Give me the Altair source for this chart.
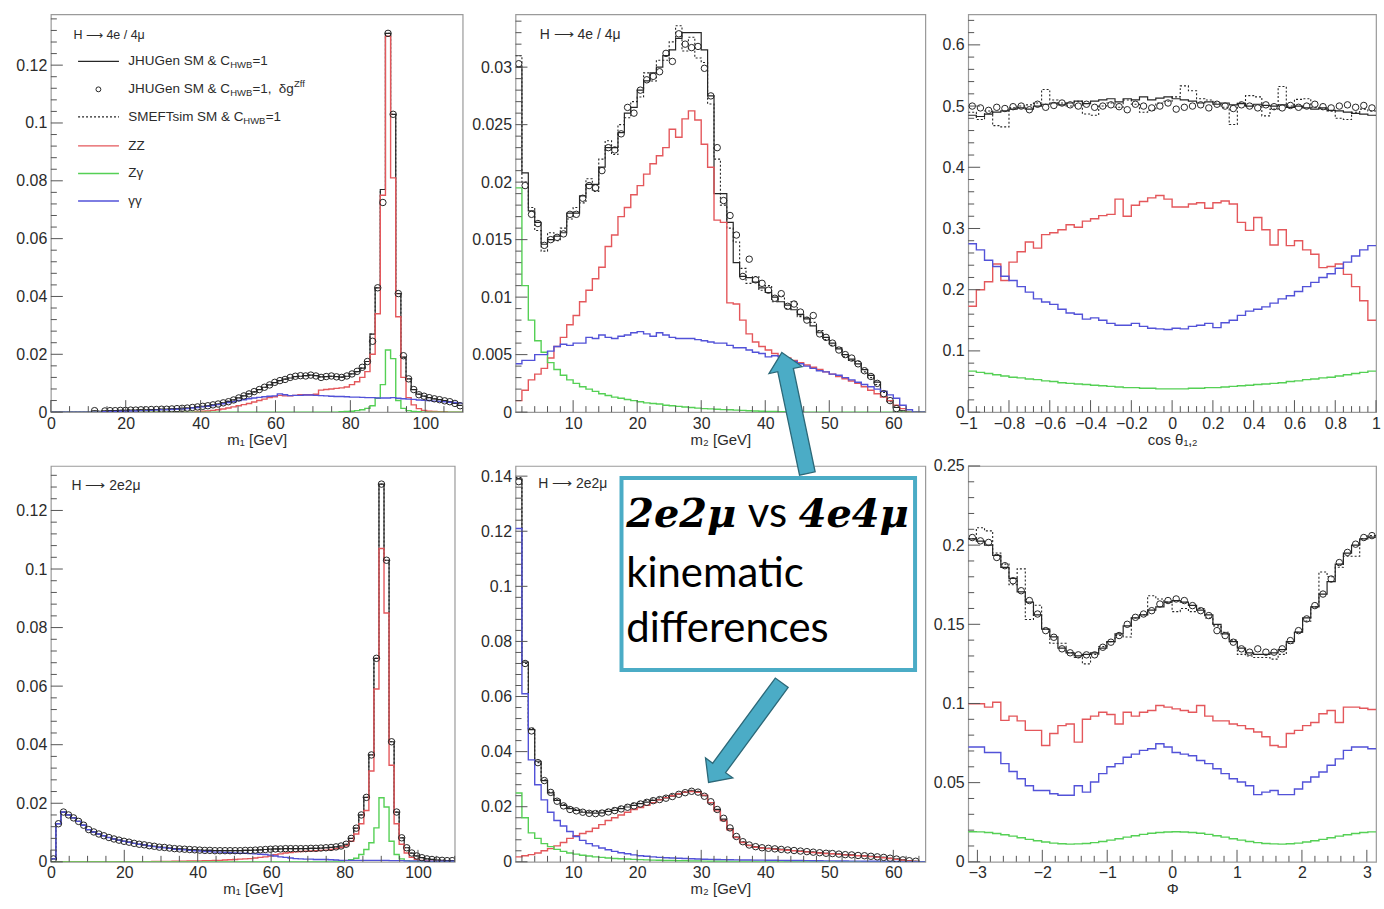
import altair as alt
import pandas as pd

# ---------------------------------------------------------------------------
# Histogram contents.  m1 / m2 panels are stored in units of 1e-3.
# ---------------------------------------------------------------------------
M1_RANGE = (0.0, 110.0)                  # 80 bins
M2_RANGE = (1.0, 65.0)                   # 64 bins
COS_RANGE = (-1.0, 1.0)                  # 50 bins
PHI_RANGE = (-3.14159265, 3.14159265)    # 50 bins

# H -> 4e / 4mu : m1
m1_4l_jhu = [0, 0, 0, 0, 0, 0, 0, 0,
             0.4, 0.3, 0.4, 0.5, 0.5, 0.6, 0.6, 0.7,
             0.7, 0.8, 0.8, 0.9, 0.9, 1.0, 1.0, 1.1,
             1.2, 1.3, 1.4, 1.6, 1.8, 2.0, 2.2, 2.5,
             2.8, 3.2, 3.7, 4.2, 4.9, 5.6, 6.3, 7.0,
             7.8, 8.6, 9.4, 10.2, 10.9, 11.4, 11.8, 12.3,
             12.4, 12.6, 12.8, 12.6, 12.2, 12.3, 12.4, 12.3,
             12.1, 12.4, 13.2, 14.0, 15.2, 17.5, 27.0, 43.0,
             77.0, 131.0, 103.0, 41.0, 19.0, 11.5, 7.8, 6.2,
             5.5, 5.0, 4.6, 4.3, 4.0, 3.6, 3.0, 2.3]
m1_4l_dgz = [0, 0, 0, 0, 0, 0, 0, 0,
             0.5, 0.0, 0.4, 0.5, 0.5, 0.6, 0.6, 0.7,
             0.7, 0.8, 0.8, 0.9, 0.9, 1.0, 1.0, 1.1,
             1.2, 1.3, 1.4, 1.6, 1.8, 2.0, 2.2, 2.5,
             2.8, 3.2, 3.6, 4.2, 4.9, 5.6, 6.3, 7.1,
             7.8, 8.6, 9.4, 10.3, 10.9, 11.3, 12.0, 12.4,
             12.6, 12.5, 12.8, 12.5, 12.0, 12.3, 12.5, 12.2,
             12.0, 12.5, 13.2, 14.1, 15.5, 17.5, 24.5, 43.0,
             72.5, 131.0, 103.0, 41.0, 19.5, 11.5, 7.8, 6.0,
             5.5, 5.0, 4.6, 4.3, 3.9, 3.6, 3.0, 2.2]
m1_4l_smeft = m1_4l_jhu
m1_4l_zz = [0, 0, 0, 0, 0, 0, 0, 0,
            0, 0, 0, 0, 0, 0, 0, 0,
            0, 0, 0, 0, 0, 0, 0, 0,
            0, 0, 0, 0, 0.2, 0.3, 0.4, 0.6,
            0.8, 1.1, 1.4, 1.8, 2.2, 2.6, 3.0, 3.5,
            4.0, 4.5, 5.0, 5.3, 5.8, 5.6, 5.6, 5.8,
            6.0, 6.0, 6.0, 6.2, 7.6, 7.8, 8.0, 8.2,
            8.4, 8.7, 9.5, 10.5, 12.0, 14.0, 20.0, 34.0,
            75.0, 130.0, 81.0, 33.0, 12.0, 5.0, 2.5, 1.2,
            0.6, 0.3, 0.2, 0.1, 0.1, 0, 0, 0]
m1_4l_za = [0, 0, 0, 0, 0, 0, 0, 0,
            0, 0, 0, 0, 0, 0, 0, 0,
            0, 0, 0, 0, 0, 0, 0, 0,
            0, 0, 0, 0, 0, 0, 0, 0,
            0, 0, 0, 0, 0, 0, 0, 0,
            0, 0, 0, 0, 0, 0, 0, 0,
            0, 0, 0, 0, 0, 0, 0, 0,
            0.1, 0.2, 0.3, 0.5, 0.8, 1.3, 2.2, 4.8,
            9.5, 21.5, 18.5, 4.0, 1.3, 0.5, 0.2, 0.1,
            0, 0, 0, 0, 0, 0, 0, 0]
m1_4l_aa = [0, 0, 0, 0, 0, 0, 0, 0,
            0, 0, 0.1, 0.2, 0.2, 0.3, 0.3, 0.4,
            0.4, 0.5, 0.5, 0.6, 0.7, 0.8, 0.8, 0.9,
            1.0, 1.1, 1.2, 1.4, 1.6, 1.8, 2.0, 2.3,
            2.6, 2.9, 3.3, 3.6, 4.0, 4.3, 4.6, 4.9,
            5.1, 5.3, 5.5, 5.6, 6.3, 6.0, 5.7, 5.8,
            5.8, 5.9, 5.9, 5.8, 5.7, 5.6, 5.5, 5.4,
            5.4, 5.3, 5.2, 5.2, 5.1, 5.0, 5.0, 4.9,
            4.9, 4.9, 5.0, 4.8, 4.6, 4.5, 4.4, 4.2,
            4.1, 4.0, 3.8, 3.7, 3.6, 3.4, 3.3, 3.1]

# H -> 4e / 4mu : m2
m2_4l_jhu = [30.0, 20.8, 17.5, 16.5, 14.6, 15.0, 15.3, 15.6, 17.3, 17.3,
             18.8, 19.8, 19.8, 21.3, 23.0, 23.0, 24.3, 26.0, 26.5, 28.0,
             28.8, 29.5, 30.0, 31.0, 31.5, 32.5, 33.0, 33.0, 33.0, 31.5,
             27.5, 19.0, 19.0, 16.5, 13.0, 11.8, 11.7, 11.3, 10.8, 10.4,
             10.0, 9.6, 9.3, 8.9, 8.5, 8.1, 7.5, 6.9, 6.5, 6.0,
             5.5, 5.0, 4.6, 4.2, 3.7, 3.2, 2.6, 1.8, 1.0, 0.4,
             0.1, 0, 0, 0]
m2_4l_dgz = [30.3, 19.7, 17.2, 16.4, 14.5, 15.0, 15.2, 15.5, 17.2, 17.2,
             18.6, 19.7, 19.5, 21.0, 23.0, 22.8, 24.2, 26.5, 26.0, 28.0,
             28.9, 29.2, 29.6, 31.2, 30.5, 32.9, 32.0, 31.7, 31.8, 29.9,
             27.5, 23.0, 18.4, 17.1, 15.4, 11.8, 13.3, 11.5, 11.2, 10.6,
             9.9, 10.3, 9.2, 9.4, 8.7, 8.0, 8.4, 6.8, 6.5, 6.0,
             5.4, 5.0, 4.7, 4.2, 3.6, 3.1, 2.5, 1.6, 1.0, 0.3,
             0, 0, 0, 0]
m2_4l_smeft = [31.0, 20.0, 17.8, 15.8, 14.0, 15.6, 14.9, 16.0, 16.8, 17.8,
               18.2, 20.3, 19.2, 22.0, 23.6, 22.4, 25.0, 25.6, 27.0, 27.4,
               29.5, 28.8, 30.6, 30.6, 32.2, 33.6, 31.4, 32.6, 30.8, 30.4,
               26.8, 22.0, 18.0, 16.0, 14.8, 12.5, 11.2, 11.8, 10.6, 11.0,
               9.6, 10.1, 9.0, 9.6, 8.3, 8.2, 7.8, 7.1, 6.3, 5.8,
               5.6, 4.8, 4.5, 4.4, 3.5, 3.0, 2.4, 1.7, 0.9, 0.4,
               0.1, 0, 0, 0]
m2_4l_zz = [1.0, 1.9, 2.8, 3.3, 3.8, 4.7, 5.7, 6.5, 7.6, 8.4,
            9.6, 10.6, 11.6, 12.6, 14.4, 15.4, 17.0, 17.8, 18.9, 19.7,
            20.7, 21.6, 22.3, 23.0, 24.6, 23.9, 25.5, 26.2, 25.4, 23.3,
            21.3, 16.7, 16.5, 9.5, 9.4, 8.0, 6.8, 6.1, 5.7, 5.4,
            5.1, 4.9, 4.7, 4.5, 4.3, 4.1, 3.9, 3.7, 3.5, 3.3,
            3.1, 2.9, 2.7, 2.5, 2.2, 1.9, 1.6, 1.3, 1.0, 0.6,
            0.3, 0, 0, 0]
m2_4l_za = [19.5, 11.0, 8.0, 6.2, 5.2, 4.3, 3.7, 3.2, 2.8, 2.5,
            2.2, 2.0, 1.8, 1.6, 1.45, 1.3, 1.2, 1.1, 1.0, 0.9,
            0.8, 0.75, 0.7, 0.6, 0.55, 0.5, 0.45, 0.4, 0.35, 0.3,
            0.28, 0.25, 0.22, 0.2, 0.17, 0.15, 0.12, 0.1, 0.08, 0.06,
            0.05, 0.04, 0.03, 0.02, 0.01, 0, 0, 0, 0, 0,
            0, 0, 0, 0, 0, 0, 0, 0, 0, 0,
            0, 0, 0, 0]
m2_4l_aa = [4.2, 4.5, 4.5, 5.0, 5.0, 5.3, 5.7, 5.9, 5.8, 6.0,
            6.0, 6.5, 6.4, 6.7, 6.5, 6.4, 6.6, 6.7, 6.9, 7.0,
            6.8, 6.6, 6.9, 6.7, 6.5, 6.4, 6.4, 6.4, 6.3, 6.2,
            6.1, 6.0, 6.0, 5.8, 5.6, 5.6, 5.4, 5.2, 5.1, 4.8,
            4.9, 4.8, 4.6, 4.4, 4.2, 4.0, 3.8, 3.6, 3.5, 3.3,
            3.2, 3.0, 2.8, 2.6, 2.4, 2.2, 2.0, 1.8, 1.5, 1.2,
            0.6, 0.2, 0, 0]

# H -> 4e / 4mu : cos theta_1,2
cos_jhu = [0.485, 0.483, 0.487, 0.490, 0.492, 0.495, 0.497, 0.495, 0.500, 0.503,
           0.505, 0.502, 0.505, 0.508, 0.504, 0.508, 0.510, 0.512, 0.507, 0.512,
           0.510, 0.515, 0.510, 0.513, 0.515, 0.512, 0.510, 0.508, 0.505, 0.507,
           0.503, 0.505, 0.502, 0.504, 0.500, 0.503, 0.501, 0.500, 0.502, 0.498,
           0.500, 0.497, 0.495, 0.497, 0.493, 0.492, 0.490, 0.488, 0.487, 0.485]
cos_dgz = [0.500, 0.497, 0.493, 0.498, 0.496, 0.499, 0.500, 0.494, 0.503, 0.498,
           0.501, 0.505, 0.502, 0.500, 0.503, 0.498, 0.500, 0.502, 0.499, 0.494,
           0.503, 0.500, 0.497, 0.500, 0.505, 0.495, 0.498, 0.500, 0.502, 0.497,
           0.503, 0.500, 0.496, 0.502, 0.500, 0.497, 0.502, 0.499, 0.497, 0.501,
           0.498, 0.500, 0.503, 0.499, 0.497, 0.500, 0.502, 0.498, 0.501, 0.497]
cos_smeft = [0.490, 0.478, 0.492, 0.468, 0.466, 0.497, 0.500, 0.502, 0.505, 0.527,
             0.510, 0.505, 0.500, 0.508, 0.487, 0.485, 0.500, 0.505, 0.498, 0.510,
             0.503, 0.490, 0.493, 0.505, 0.508, 0.515, 0.533, 0.525, 0.512, 0.510,
             0.505, 0.498, 0.470, 0.505, 0.517, 0.515, 0.484, 0.495, 0.532, 0.500,
             0.511, 0.512, 0.498, 0.495, 0.492, 0.480, 0.478, 0.490, 0.495, 0.492]
cos_zz = [0.173, 0.200, 0.213, 0.242, 0.215, 0.245, 0.262, 0.278, 0.268, 0.290,
          0.293, 0.298, 0.306, 0.302, 0.312, 0.316, 0.321, 0.323, 0.348, 0.320,
          0.338, 0.344, 0.350, 0.354, 0.348, 0.335, 0.335, 0.340, 0.342, 0.333,
          0.342, 0.345, 0.340, 0.310, 0.297, 0.318, 0.298, 0.273, 0.298, 0.272,
          0.280, 0.265, 0.258, 0.236, 0.238, 0.242, 0.225, 0.205, 0.182, 0.150]
cos_za = [0.067, 0.065, 0.063, 0.061, 0.059, 0.057, 0.056, 0.054, 0.053, 0.051,
          0.050, 0.048, 0.047, 0.046, 0.045, 0.044, 0.043, 0.042, 0.041, 0.040,
          0.040, 0.039, 0.039, 0.038, 0.038, 0.038, 0.038, 0.039, 0.039, 0.040,
          0.040, 0.041, 0.042, 0.043, 0.044, 0.045, 0.046, 0.047, 0.048, 0.050,
          0.051, 0.053, 0.054, 0.056, 0.057, 0.059, 0.061, 0.063, 0.065, 0.067]
cos_aa = [0.275, 0.265, 0.248, 0.238, 0.222, 0.215, 0.205, 0.196, 0.185, 0.180,
          0.176, 0.168, 0.162, 0.160, 0.152, 0.154, 0.150, 0.145, 0.142, 0.142,
          0.145, 0.140, 0.137, 0.136, 0.135, 0.137, 0.136, 0.140, 0.142, 0.145,
          0.138, 0.146, 0.150, 0.158, 0.165, 0.168, 0.172, 0.178, 0.185, 0.190,
          0.197, 0.205, 0.212, 0.220, 0.226, 0.235, 0.245, 0.255, 0.265, 0.272]

# H -> 2e2mu : m1
m1_2l_jhu = [1.0, 13.0, 17.0, 16.0, 15.0, 13.8, 12.5, 11.0,
             10.2, 9.5, 8.9, 8.3, 7.8, 7.4, 7.0, 6.7,
             6.3, 6.0, 5.8, 5.5, 5.3, 5.0, 4.9, 4.7,
             4.5, 4.4, 4.3, 4.2, 4.1, 4.0, 3.9, 3.9,
             3.8, 3.8, 3.8, 3.8, 3.8, 3.8, 3.9, 3.9,
             4.0, 4.1, 4.2, 4.3, 4.4, 4.4, 4.5, 4.5,
             4.5, 4.5, 4.5, 4.6, 4.6, 4.7, 4.8, 4.9,
             5.1, 5.4, 6.0, 8.0, 11.5, 16.0, 22.0, 36.5,
             69.5, 129.0, 103.0, 41.0, 17.0, 8.2, 4.8, 3.0,
             2.0, 1.4, 1.0, 0.8, 0.6, 0.5, 0.4, 0.4]
m1_2l_dgz = m1_2l_jhu
m1_2l_smeft = m1_2l_jhu
m1_2l_zz = [0, 0, 0, 0, 0, 0, 0, 0,
            0, 0, 0, 0, 0, 0, 0, 0,
            0, 0, 0, 0, 0.1, 0.1, 0.1, 0.1,
            0.2, 0.2, 0.2, 0.3, 0.3, 0.3, 0.4, 0.4,
            0.5, 0.5, 0.6, 0.7, 0.8, 0.9, 1.0, 1.1,
            1.3, 1.5, 1.7, 2.0, 2.4, 2.7, 3.0, 3.2,
            3.4, 3.5, 3.6, 3.7, 3.8, 3.9, 4.0, 4.2,
            4.5, 4.9, 5.5, 7.0, 9.5, 13.0, 17.5, 31.0,
            59.0, 107.0, 85.0, 33.0, 13.0, 6.0, 3.0, 1.5,
            0.8, 0.5, 0.3, 0.2, 0.1, 0.1, 0, 0]
m1_2l_za = [0, 0, 0, 0, 0, 0, 0, 0,
            0, 0, 0, 0, 0, 0, 0, 0,
            0, 0, 0, 0, 0, 0, 0, 0,
            0, 0, 0, 0, 0, 0, 0, 0,
            0, 0, 0, 0, 0, 0, 0, 0,
            0, 0, 0, 0, 0, 0, 0, 0,
            0, 0, 0, 0, 0, 0, 0, 0,
            0.1, 0.2, 0.4, 0.7, 1.2, 2.5, 4.2, 6.5,
            11.6, 21.9, 18.7, 7.0, 2.5, 1.0, 0.4, 0.2,
            0.1, 0, 0, 0, 0, 0, 0, 0]
m1_2l_aa = [1.0, 13.0, 17.0, 16.0, 15.0, 13.8, 12.5, 11.0,
            10.2, 9.5, 8.9, 8.3, 7.8, 7.4, 7.0, 6.7,
            6.3, 6.0, 5.8, 5.5, 5.2, 4.9, 4.8, 4.6,
            4.3, 4.2, 4.1, 3.9, 3.8, 3.7, 3.5, 3.5,
            3.3, 3.3, 3.2, 3.1, 3.0, 2.9, 2.9, 2.8,
            2.7, 2.6, 2.5, 2.3, 2.0, 1.7, 1.5, 1.3,
            1.1, 1.0, 0.9, 0.9, 0.8, 0.8, 0.8, 0.7,
            0.6, 0.5, 0.5, 0.5, 0.5, 0.5, 0.5, 0.5,
            0.5, 0.5, 0.5, 0.4, 0.4, 0.4, 0.3, 0.3,
            0.3, 0.3, 0.2, 0.2, 0.2, 0.2, 0.2, 0.2]

# H -> 2e2mu : m2
m2_2l_jhu = [139.0, 72.5, 48.0, 36.5, 29.5, 25.0, 22.3, 20.5, 19.3, 18.7,
             18.0, 17.8, 17.7, 17.8, 18.3, 18.7, 19.3, 19.9, 20.5, 21.1,
             21.7, 22.3, 22.6, 23.2, 23.8, 24.6, 25.2, 25.8, 25.5, 24.0,
             21.5, 19.0, 15.5, 12.0, 9.0, 7.2, 6.0, 5.4, 5.1, 4.9,
             4.7, 4.5, 4.3, 4.1, 3.9, 3.7, 3.5, 3.3, 3.1, 3.0,
             2.8, 2.6, 2.5, 2.3, 2.2, 2.0, 1.8, 1.6, 1.3, 1.0,
             0.7, 0.4, 0.2, 0.0]
m2_2l_dgz = [138.0, 72.0, 47.5, 36.0, 29.5, 25.2, 22.0, 20.3, 19.0, 18.5,
             18.0, 17.6, 17.5, 17.7, 18.1, 18.6, 19.2, 19.8, 20.3, 21.0,
             21.6, 22.2, 22.6, 23.1, 23.7, 24.5, 25.1, 25.6, 25.3, 23.8,
             21.8, 19.0, 15.8, 12.3, 9.2, 7.3, 6.1, 5.5, 5.1, 4.9,
             4.7, 4.5, 4.3, 4.1, 3.9, 3.7, 3.5, 3.3, 3.1, 3.0,
             2.8, 2.6, 2.5, 2.3, 2.2, 2.0, 1.8, 1.6, 1.3, 1.0,
             0.7, 0.4, 0.2, 0.0]
m2_2l_smeft = [139.5, 72.0, 48.5, 36.0, 29.8, 25.3, 22.5, 20.8, 19.6, 19.0,
               18.4, 18.2, 18.3, 18.5, 19.0, 19.5, 20.0, 20.6, 21.2, 21.8,
               22.3, 22.8, 23.2, 23.7, 24.3, 24.9, 25.5, 26.0, 25.6, 24.0,
               21.3, 18.8, 15.3, 11.8, 9.0, 7.3, 6.0, 5.5, 5.1, 4.9,
               4.7, 4.5, 4.3, 4.1, 3.9, 3.7, 3.5, 3.3, 3.1, 3.0,
               2.8, 2.6, 2.5, 2.3, 2.2, 2.0, 1.8, 1.6, 1.3, 1.0,
               0.7, 0.4, 0.2, 0.0]
m2_2l_zz = [1.8, 2.2, 2.6, 3.2, 4.0, 4.8, 5.8, 7.0, 8.5, 9.5,
            10.3, 11.0, 12.2, 13.5, 15.0, 16.0, 17.0, 18.0, 19.0, 19.7,
            20.5, 21.5, 22.5, 23.3, 24.0, 24.7, 25.3, 25.5, 25.2, 24.2,
            21.5, 18.5, 15.0, 11.6, 8.8, 7.0, 5.9, 5.3, 5.0, 4.8,
            4.6, 4.4, 4.2, 4.0, 3.8, 3.6, 3.4, 3.2, 3.0, 2.9,
            2.7, 2.5, 2.4, 2.2, 2.1, 1.9, 1.7, 1.5, 1.2, 0.9,
            0.6, 0.3, 0.1, 0]
m2_2l_za = [25.0, 16.0, 10.5, 8.5, 6.6, 5.5, 4.5, 3.8, 3.2, 2.8,
            2.4, 2.1, 1.8, 1.6, 1.4, 1.2, 1.1, 1.0, 0.9, 0.8,
            0.7, 0.6, 0.55, 0.5, 0.45, 0.4, 0.36, 0.32, 0.28, 0.25,
            0.22, 0.2, 0.18, 0.16, 0.14, 0.12, 0.1, 0.09, 0.08, 0.07,
            0.06, 0.05, 0.04, 0.03, 0.02, 0.01, 0, 0, 0, 0,
            0, 0, 0, 0, 0, 0, 0, 0, 0, 0,
            0, 0, 0, 0]
m2_2l_aa = [121.0, 61.0, 37.0, 28.0, 22.5, 18.0, 15.0, 13.0, 11.0, 9.2,
            7.8, 6.6, 5.8, 5.0, 4.4, 3.8, 3.3, 2.9, 2.5, 2.2,
            2.0, 1.8, 1.6, 1.5, 1.4, 1.3, 1.2, 1.1, 1.0, 0.95,
            0.9, 0.85, 0.8, 0.75, 0.7, 0.68, 0.65, 0.62, 0.6, 0.57,
            0.55, 0.52, 0.5, 0.48, 0.45, 0.43, 0.4, 0.38, 0.35, 0.33,
            0.3, 0.28, 0.26, 0.24, 0.22, 0.2, 0.18, 0.15, 0.12, 0.1,
            0.07, 0.04, 0.02, 0]

# H -> 2e2mu : Phi
phi_jhu = [0.2040, 0.2025, 0.2000, 0.1935, 0.1860, 0.1790, 0.1705, 0.1640, 0.1560, 0.1470,
           0.1420, 0.1350, 0.1320, 0.1300, 0.1310, 0.1320, 0.1350, 0.1390, 0.1440, 0.1490,
           0.1540, 0.1560, 0.1590, 0.1610, 0.1640, 0.1650, 0.1640, 0.1620, 0.1590, 0.1560,
           0.1500, 0.1440, 0.1390, 0.1350, 0.1320, 0.1310, 0.1310, 0.1320, 0.1340, 0.1390,
           0.1450, 0.1540, 0.1610, 0.1690, 0.1770, 0.1880, 0.1950, 0.2000, 0.2040, 0.2050]
phi_dgz = [0.2048, 0.2027, 0.2017, 0.1922, 0.1870, 0.1775, 0.1712, 0.1650, 0.1565, 0.1460,
           0.1418, 0.1345, 0.1320, 0.1307, 0.1307, 0.1307, 0.1355, 0.1387, 0.1429, 0.1500,
           0.1544, 0.1565, 0.1586, 0.1628, 0.1650, 0.1660, 0.1650, 0.1618, 0.1586, 0.1555,
           0.1460, 0.1429, 0.1387, 0.1345, 0.1324, 0.1345, 0.1324, 0.1324, 0.1345, 0.1397,
           0.1460, 0.1534, 0.1618, 0.1691, 0.1786, 0.1890, 0.1954, 0.2006, 0.2048, 0.2060]
phi_smeft = [0.2040, 0.2110, 0.2090, 0.1950, 0.1880, 0.1750, 0.1850, 0.1530, 0.1620, 0.1470,
             0.1380, 0.1380, 0.1320, 0.1290, 0.1250, 0.1310, 0.1360, 0.1390, 0.1430, 0.1420,
             0.1540, 0.1560, 0.1680, 0.1660, 0.1640, 0.1580, 0.1600, 0.1580, 0.1600, 0.1540,
             0.1490, 0.1450, 0.1400, 0.1310, 0.1300, 0.1290, 0.1290, 0.1280, 0.1310, 0.1380,
             0.1450, 0.1520, 0.1610, 0.1830, 0.1800, 0.1860, 0.1930, 0.1930, 0.2040, 0.2060]
phi_zz = [0.0998, 0.0998, 0.0977, 0.1008, 0.0893, 0.0920, 0.0890, 0.0830, 0.0830, 0.0735,
          0.0810, 0.0860, 0.0870, 0.0756, 0.0900, 0.0920, 0.0945, 0.0930, 0.0870, 0.0945,
          0.0920, 0.0945, 0.0956, 0.0987, 0.0977, 0.0966, 0.0956, 0.0945, 0.0987, 0.0920,
          0.0890, 0.0890, 0.0870, 0.0860, 0.0840, 0.0820, 0.0790, 0.0735, 0.0725, 0.0810,
          0.0830, 0.0860, 0.0880, 0.0935, 0.0956, 0.0880, 0.0977, 0.0977, 0.0970, 0.0962]
phi_za = [0.0190, 0.0189, 0.0185, 0.0179, 0.0171, 0.0162, 0.0152, 0.0142, 0.0133, 0.0125,
          0.0118, 0.0114, 0.0112, 0.0113, 0.0116, 0.0121, 0.0128, 0.0137, 0.0146, 0.0156,
          0.0165, 0.0173, 0.0180, 0.0185, 0.0188, 0.0190, 0.0188, 0.0185, 0.0180, 0.0173,
          0.0165, 0.0156, 0.0146, 0.0137, 0.0128, 0.0121, 0.0116, 0.0113, 0.0112, 0.0114,
          0.0118, 0.0125, 0.0133, 0.0142, 0.0152, 0.0162, 0.0171, 0.0179, 0.0185, 0.0189]
phi_aa = [0.0725, 0.0725, 0.0690, 0.0690, 0.0620, 0.0570, 0.0525, 0.0480, 0.0450, 0.0450,
          0.0430, 0.0420, 0.0420, 0.0480, 0.0440, 0.0504, 0.0557, 0.0600, 0.0620, 0.0660,
          0.0680, 0.0704, 0.0714, 0.0746, 0.0725, 0.0690, 0.0680, 0.0670, 0.0640, 0.0620,
          0.0588, 0.0557, 0.0525, 0.0504, 0.0480, 0.0424, 0.0440, 0.0450, 0.0424, 0.0424,
          0.0460, 0.0504, 0.0536, 0.0567, 0.0610, 0.0650, 0.0704, 0.0725, 0.0725, 0.0714]

# ---------------------------------------------------------------------------
# Styling
# ---------------------------------------------------------------------------
FONT = "Liberation Sans"
INK = "#2b2b2b"
FRAME = "#9a9a9a"
TICK = "#555555"
BLACK = "#262626"
RED = "#e4575b"
GREEN = "#55d055"
BLUE = "#5252d8"
TEAL = "#4bacc6"
TEAL_EDGE = "#2c6878"
ARR = "\u27f6"

ONE = pd.DataFrame({"k": [0]})

# block arrow, tip at (0,-1), tail at (0,1)
ARROW = ("M0,-1 L0.274,-0.71 L0.129,-0.71 L0.129,1 "
         "L-0.129,1 L-0.129,-0.71 L-0.274,-0.71 Z")


def bin_edges(lo, hi, n):
    w = (hi - lo) / n
    return [lo + w * i for i in range(n + 1)]


def step_frame(lo, hi, vals, unit):
    e = bin_edges(lo, hi, len(vals))
    y = [v * unit for v in vals]
    return pd.DataFrame({"x": e, "y": y + [y[-1]]})


def centre_frame(lo, hi, vals, unit):
    e = bin_edges(lo, hi, len(vals))
    pts = [((e[i] + e[i + 1]) / 2, v * unit) for i, v in enumerate(vals) if v > 0]
    return pd.DataFrame(pts, columns=["x", "y"])


def tick_split(lo, hi, minor, major):
    n = int(round((hi - lo) / minor))
    fine = [round(lo + i * minor, 6) for i in range(n + 1)]

    def is_major(t):
        q = t / major
        return abs(q - round(q)) < 1e-6

    return [t for t in fine if is_major(t)], [t for t in fine if not is_major(t)]


def txt(s, x, y, size=13.5, font=FONT, color=INK, baseline="middle", **kw):
    return alt.Chart(ONE).mark_text(
        text=s, font=font, fontSize=size, color=color, align="left",
        baseline=baseline, **kw
    ).encode(x=alt.value(x), y=alt.value(y))


def sample_line(y, color, dash=None):
    kw = dict(color=color, strokeWidth=1.3)
    if dash:
        kw["strokeDash"] = dash
    return alt.Chart(ONE).mark_rule(**kw).encode(
        x=alt.value(27.3), x2=alt.value(68.3), y=alt.value(y))


def panel(p):
    W, H = p["w"], p["h"]
    lo, hi = p["xdom"]
    unit = p["unit"]
    xs = alt.Scale(domain=[lo, hi], nice=False, zero=False)
    ys = alt.Scale(domain=[0, p["ytop"]], nice=False, zero=False)
    xmaj, xmin = tick_split(*p["xticks"])
    ymaj, ymin = tick_split(*p["yticks"])
    common = dict(ticks=False, domain=False, grid=False, labelFont=FONT,
                  labelFontSize=16, labelColor=INK, labelOverlap=False,
                  labelFlush=False, labelExpr="format(datum.value, '~g')")
    xaxis = alt.Axis(values=xmaj, labelPadding=3, title=p["xtitle"], titleFont=FONT,
                     titleFontSize=15, titleFontWeight="normal", titleColor=INK,
                     titlePadding=1, **common)
    yaxis = alt.Axis(values=ymaj, labelPadding=4, title=None, titlePadding=0,
                     minExtent=p["ext"], maxExtent=p["ext"], **common)
    X = alt.X("x:Q", scale=xs, axis=xaxis)
    Y = alt.Y("y:Q", scale=ys, axis=yaxis)

    def hist(vals, color, width=1.4, dash=None):
        kw = dict(interpolate="step-after", color=color, strokeWidth=width, clip=True)
        if dash:
            kw["strokeDash"] = dash
        return alt.Chart(step_frame(lo, hi, vals, unit)).mark_line(**kw).encode(x=X, y=Y)

    layers = [
        hist(p["jhu"], BLACK, 1.2),
        hist(p["smeft"], BLACK, 1.1, [2, 2]),
        hist(p["zz"], RED),
        hist(p["za"], GREEN),
        hist(p["aa"], BLUE),
        alt.Chart(centre_frame(lo, hi, p["dgz"], unit)).mark_point(
            shape="circle", filled=False, size=42, color=BLACK, strokeWidth=1,
            opacity=1, clip=True).encode(x=X, y=Y),
    ]
    for vals, length in ((xmaj, 12), (xmin, 6)):
        layers.append(alt.Chart(pd.DataFrame({"x": vals})).mark_rule(
            color=TICK, strokeWidth=1).encode(x=X, y=alt.value(H), y2=alt.value(H - length)))
    for vals, length in ((ymaj, 12), (ymin, 6)):
        layers.append(alt.Chart(pd.DataFrame({"y": vals})).mark_rule(
            color=TICK, strokeWidth=1).encode(y=Y, x=alt.value(0), x2=alt.value(length)))
    layers += p.get("extra", [])
    return alt.layer(*layers).properties(width=W, height=H)


# ---------------------------------------------------------------------------
# Legend, channel labels and the comparison call-out
# ---------------------------------------------------------------------------
SUB = 9.5
legend = [
    txt("H " + ARR + " 4e / 4\u03bc", 22.7, 21.3, size=12.5),
    sample_line(47.3, BLACK),
    txt("JHUGen SM & C", 77.7, 47.3), txt("HWB", 179.8, 51.0, size=SUB),
    txt("=1", 202.2, 47.3),
    alt.Chart(ONE).mark_point(shape="circle", filled=False, size=24, color=BLACK,
                              strokeWidth=1, opacity=1).encode(x=alt.value(47.7), y=alt.value(75.3)),
    txt("JHUGen SM & C", 77.7, 75.3), txt("HWB", 179.8, 79.0, size=SUB),
    txt("=1,", 202.2, 75.3), txt("\u03b4g", 228.5, 75.3), txt("Zff", 243.8, 70.0, size=SUB),
    sample_line(103.0, BLACK, [2, 2]),
    txt("SMEFTsim SM & C", 77.7, 103.0), txt("HWB", 193.0, 106.7, size=SUB),
    txt("=1", 215.5, 103.0),
    sample_line(132.0, RED), txt("ZZ", 77.7, 132.0),
    sample_line(159.7, GREEN), txt("Z\u03b3", 77.7, 159.7),
    sample_line(187.3, BLUE), txt("\u03b3\u03b3", 77.7, 187.3),
]

MATH = dict(font="DejaVu Serif", fontStyle="italic", fontWeight="bold", size=40,
            color="#000000", baseline="alphabetic")
BODY = dict(font="Lato", size=42, color="#000000", baseline="alphabetic")
callout = [
    alt.Chart(ONE).mark_rect(fill="white", stroke=TEAL, strokeWidth=4).encode(
        x=alt.value(106.3), x2=alt.value(400.7), y=alt.value(12.0), y2=alt.value(204.7)),
    txt("2e2\u03bc", 111, 61, **MATH),
    txt("vs", 233, 61, **BODY),
    txt("4e4\u03bc", 284, 61, **MATH),
    txt("kinematic", 111, 121, **BODY),
    txt("differences", 111, 177, **BODY),
    alt.Chart(ONE).mark_point(shape=ARROW, size=15376, angle=348.1, filled=True,
                              fill=TEAL, stroke=TEAL_EDGE, strokeWidth=1.3, opacity=1).encode(
        x=alt.value(279.9), y=alt.value(-53.1)),
    alt.Chart(ONE).mark_point(shape=ARROW, size=15376, angle=216.3, filled=True,
                              fill=TEAL, stroke=TEAL_EDGE, strokeWidth=1.3, opacity=1).encode(
        x=alt.value(230.3), y=alt.value(267.4)),
]

M1_TICKS = (0, 110, 5, 20)
M2_TICKS = (2, 64, 2, 10)

p1 = panel(dict(w=413, h=399, ext=36, xdom=M1_RANGE, ytop=0.1376, unit=1e-3,
                xticks=M1_TICKS, yticks=(0, 0.136, 0.004, 0.02), xtitle="m\u2081 [GeV]",
                jhu=m1_4l_jhu, dgz=m1_4l_dgz, smeft=m1_4l_smeft,
                zz=m1_4l_zz, za=m1_4l_za, aa=m1_4l_aa, extra=legend))
p2 = panel(dict(w=411, h=399, ext=47.4, xdom=M2_RANGE, ytop=0.0346, unit=1e-3,
                xticks=M2_TICKS, yticks=(0, 0.034, 0.001, 0.005), xtitle="m\u2082 [GeV]",
                jhu=m2_4l_jhu, dgz=m2_4l_dgz, smeft=m2_4l_smeft,
                zz=m2_4l_zz, za=m2_4l_za, aa=m2_4l_aa,
                extra=[txt("H " + ARR + " 4e / 4\u03bc", 24.3, 21.3, size=14)]))
p3 = panel(dict(w=409, h=399, ext=38.4, xdom=COS_RANGE, ytop=0.65, unit=1.0,
                xticks=(-1, 1, 0.04, 0.2), yticks=(0, 0.64, 0.02, 0.1),
                xtitle="cos \u03b8\u2081\u201a\u2082",
                jhu=cos_jhu, dgz=cos_dgz, smeft=cos_smeft,
                zz=cos_zz, za=cos_za, aa=cos_aa))
p4 = panel(dict(w=405, h=397, ext=36, xdom=M1_RANGE, ytop=0.1352, unit=1e-3,
                xticks=M1_TICKS, yticks=(0, 0.132, 0.004, 0.02), xtitle="m\u2081 [GeV]",
                jhu=m1_2l_jhu, dgz=m1_2l_dgz, smeft=m1_2l_smeft,
                zz=m1_2l_zz, za=m1_2l_za, aa=m1_2l_aa,
                extra=[txt("H " + ARR + " 2e2\u03bc", 20.7, 20.0, size=14)]))
p5 = panel(dict(w=411, h=397, ext=47.4, xdom=M2_RANGE, ytop=0.1437, unit=1e-3,
                xticks=M2_TICKS, yticks=(0, 0.14, 0.004, 0.02), xtitle="m\u2082 [GeV]",
                jhu=m2_2l_jhu, dgz=m2_2l_dgz, smeft=m2_2l_smeft,
                zz=m2_2l_zz, za=m2_2l_za, aa=m2_2l_aa,
                extra=[txt("H " + ARR + " 2e2\u03bc", 22.7, 18.3, size=14)] + callout))
p6 = panel(dict(w=409, h=397, ext=38.4, xdom=PHI_RANGE, ytop=0.25, unit=1.0,
                xticks=(-3, 3, 0.2, 1), yticks=(0, 0.25, 0.01, 0.05), xtitle="\u03a6",
                jhu=phi_jhu, dgz=phi_dgz, smeft=phi_smeft,
                zz=phi_zz, za=phi_za, aa=phi_aa))

# columns are stacked with fixed offsets; the columns themselves sit side by side
col1 = alt.vconcat(p1, p4, spacing=54, bounds="flush")
col2 = alt.vconcat(p2, p5, spacing=54, bounds="flush")
col3 = alt.vconcat(p3, p6, spacing=54, bounds="flush")

chart = (
    alt.hconcat(col1, col2, col3, spacing=3)
    .properties(padding={"left": 14, "top": 12, "right": 2, "bottom": 2},
                background="white")
    .configure_view(stroke=FRAME, strokeWidth=1.2)
)

chart.save("out.html", embed_options={"renderer": "svg", "actions": False})
